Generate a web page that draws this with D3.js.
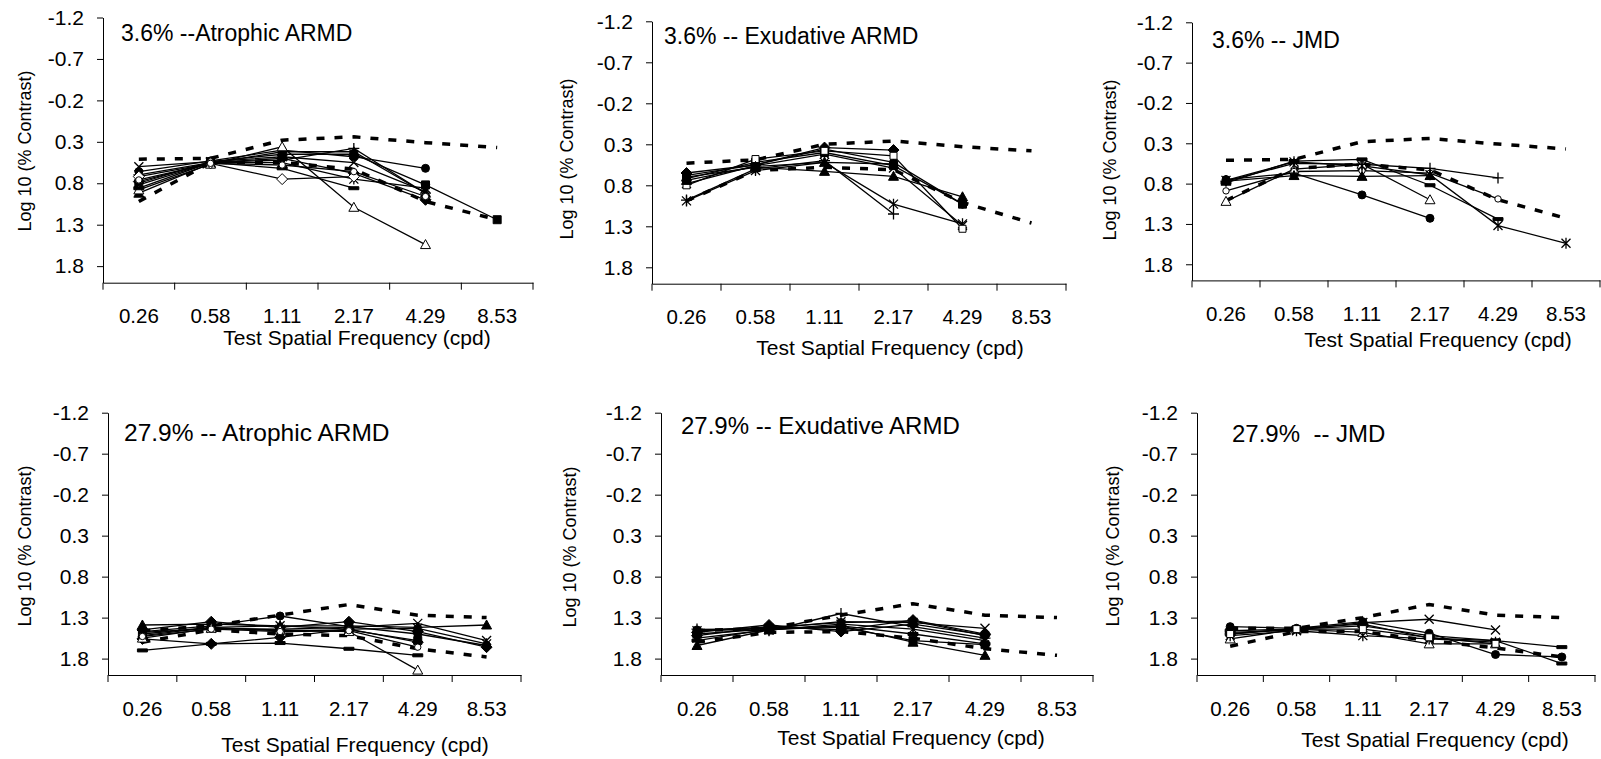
<!DOCTYPE html>
<html>
<head>
<meta charset="utf-8">
<script src="https://cdn.jsdelivr.net/npm/d3@7"></script>
<style>
  body { margin: 0; background: #fff; }
  text { font-family: "Liberation Sans", Arial, sans-serif; fill: #000; }
</style>
</head>
<body>
<svg id="chart" width="1601" height="759"></svg>
<script>
// categories and ticks
const freqs = ['0.26', '0.58', '1.11', '2.17', '4.29', '8.53'];
const yTicks = [-1.2, -0.7, -0.2, 0.3, 0.8, 1.3, 1.8];
const yDomain = [-1.2, 2.0];

// 3.6% -- Atrophic ARMD
const atrophic36Upper = [0.51, 0.50, 0.28, 0.24, 0.31, 0.37];
const atrophic36Lower = [1.02, 0.55, 0.55, 0.63, 1.02, 1.24];
const atrophic36 = [
  [0.78, 0.55, 0.50, 0.68, 1.00, null],
  [0.80, 0.54, 0.45, 0.45, 0.82, 1.24],
  [0.92, 0.56, 0.42, 0.42, 0.92, null],
  [0.60, 0.54, 0.48, 0.55, 0.90, null],
  [0.82, 0.55, 0.55, 0.75, 0.86, null],
  [0.66, 0.53, 0.40, 0.48, 0.62, null],
  [0.70, 0.55, 0.52, 0.38, 0.92, null],
  [0.88, 0.57, 0.36, 1.09, 1.54, null],
  [0.72, 0.56, 0.75, 0.72, null, null],
  [0.86, 0.55, 0.62, 0.86, null, null],
  [0.76, 0.56, 0.58, 0.66, 0.96, null]
];
const atrophic36Marks = ['diamond', 'square', 'triangle', 'x', 'asterisk', 'circle', 'plus', 'openTriangle', 'openDiamond', 'dash', 'openCircle'];

// 3.6% -- Exudative ARMD
const exudative36Upper = [0.53, 0.49, 0.30, 0.26, 0.33, 0.38];
const exudative36Lower = [0.99, 0.62, 0.58, 0.61, 1.01, 1.26];
const exudative36 = [
  [0.65, 0.55, 0.34, 0.37, null, null],
  [0.72, 0.52, 0.40, 0.56, 1.03, null],
  [0.70, 0.58, 0.63, 0.69, 0.94, null],
  [0.78, 0.56, 0.42, 0.59, 1.29, null],
  [0.99, 0.62, 0.52, 1.03, 1.27, null],
  [0.68, 0.55, 0.36, 0.52, 1.03, null],
  [0.98, 0.60, 0.50, 1.15, null, null],
  [0.80, 0.48, 0.38, 0.44, 1.33, null],
  [0.74, 0.57, 0.52, 0.54, null, null]
];
const exudative36Marks = ['diamond', 'square', 'triangle', 'x', 'asterisk', 'circle', 'plus', 'openSquare', 'triangle'];

// 3.6% -- JMD
const jmd36Upper = [0.51, 0.50, 0.28, 0.24, 0.31, 0.37];
const jmd36Lower = [1.01, 0.61, 0.56, 0.63, 1.00, 1.23];
const jmd36 = [
  [0.75, 0.67, 0.94, 1.23, null, null],
  [1.02, 0.62, 0.56, 1.00, null, null],
  [0.89, 0.65, 0.64, 0.67, 0.99, null],
  [0.77, 0.55, 0.56, 0.61, 0.73, null],
  [0.79, 0.52, 0.50, 0.82, 1.24, null],
  [0.76, 0.53, 0.58, 0.69, 1.32, 1.54],
  [0.77, 0.70, 0.71, 0.70, null, null]
];
const jmd36Marks = ['circle', 'openTriangle', 'openCircle', 'plus', 'dash', 'asterisk', 'triangle'];

// 27.9% -- Atrophic ARMD
const atrophic279Upper = [1.46, 1.40, 1.27, 1.14, 1.27, 1.30];
const atrophic279Lower = [1.60, 1.45, 1.50, 1.52, 1.68, 1.78];
const atrophic279 = [
  [1.45, 1.35, 1.42, 1.35, 1.47, 1.66],
  [1.52, 1.42, 1.46, 1.45, 1.58, null],
  [1.39, 1.38, 1.40, 1.40, 1.42, 1.39],
  [1.48, 1.43, 1.44, 1.42, 1.37, 1.58],
  [1.50, 1.42, 1.40, 1.44, 1.43, 1.62],
  [1.47, 1.40, 1.28, 1.41, 1.50, 1.64],
  [1.70, 1.62, 1.61, 1.68, 1.76, null],
  [1.56, 1.62, 1.54, 1.44, 1.60, null],
  [1.55, 1.43, 1.45, 1.47, 1.94, null],
  [1.53, 1.44, 1.47, 1.46, 1.66, null]
];
const atrophic279Marks = ['diamond', 'square', 'triangle', 'x', 'asterisk', 'circle', 'dash', 'diamond', 'openTriangle', 'openCircle'];

// 27.9% -- Exudative ARMD
const exudative279Upper = [1.46, 1.43, 1.27, 1.13, 1.27, 1.30];
const exudative279Lower = [1.60, 1.48, 1.47, 1.55, 1.68, 1.76];
const exudative279 = [
  [1.48, 1.39, 1.47, 1.38, 1.51, null],
  [1.50, 1.44, 1.42, 1.58, 1.63, null],
  [1.64, 1.45, 1.40, 1.60, 1.76, null],
  [1.46, 1.43, 1.35, 1.36, 1.43, null],
  [1.55, 1.45, 1.38, 1.44, 1.58, null],
  [1.45, 1.42, 1.36, 1.34, 1.52, null],
  [1.44, 1.46, 1.25, 1.41, 1.55, null],
  [1.58, 1.44, 1.40, 1.50, 1.62, null],
  [1.52, 1.41, 1.45, 1.33, 1.50, null]
];
const exudative279Marks = ['diamond', 'square', 'triangle', 'x', 'asterisk', 'circle', 'plus', 'dash', 'diamond'];

// 27.9% -- JMD
const jmd279Upper = [1.43, 1.43, 1.30, 1.14, 1.27, 1.30];
const jmd279Lower = [1.65, 1.47, 1.47, 1.58, 1.67, 1.78];
const jmd279 = [
  [1.41, 1.43, 1.35, 1.49, 1.75, 1.78],
  [1.48, 1.45, 1.36, 1.32, 1.45, null],
  [1.46, 1.44, 1.40, 1.52, 1.58, 1.66],
  [1.56, 1.44, 1.48, 1.62, 1.62, null],
  [1.52, 1.46, 1.52, 1.56, 1.60, null],
  [1.50, 1.43, 1.38, 1.55, 1.58, 1.86],
  [1.50, 1.44, 1.44, 1.54, 1.62, null]
];
const jmd279Marks = ['circle', 'x', 'dash', 'openTriangle', 'asterisk', 'dash', 'openSquare'];

// panel layout
const panels = [
  { title: '3.6% --Atrophic ARMD', xLabel: 'Test Spatial Frequency (cpd)', series: atrophic36, marks: atrophic36Marks,
    upper: atrophic36Upper, lower: atrophic36Lower, titleSize: 23,
    left: 103, right: 533, top: 17.5, bottom: 282.7, tx: 121, ty: 41, lx: 357, ly: 345, yx: 25, yy: 151 },
  { title: '3.6% -- Exudative ARMD', xLabel: 'Test Saptial Frequency (cpd)', series: exudative36, marks: exudative36Marks,
    upper: exudative36Upper, lower: exudative36Lower, titleSize: 23,
    left: 652, right: 1066, top: 21.3, bottom: 283.7, tx: 664, ty: 44, lx: 890, ly: 355, yx: 567, yy: 159 },
  { title: '3.6% -- JMD', xLabel: 'Test Spatial Frequency (cpd)', series: jmd36, marks: jmd36Marks,
    upper: jmd36Upper, lower: jmd36Lower, titleSize: 23,
    left: 1192, right: 1600, top: 22.3, bottom: 280.4, tx: 1212, ty: 48, lx: 1438, ly: 347, yx: 1110, yy: 160 },
  { title: '27.9% -- Atrophic ARMD', xLabel: 'Test Spatial Frequency (cpd)', series: atrophic279, marks: atrophic279Marks,
    upper: atrophic279Upper, lower: atrophic279Lower, titleSize: 24.5,
    left: 108, right: 521, top: 412.7, bottom: 675, tx: 124, ty: 441, lx: 355, ly: 752, yx: 25, yy: 546 },
  { title: '27.9% -- Exudative ARMD', xLabel: 'Test Spatial Frequency (cpd)', series: exudative279, marks: exudative279Marks,
    upper: exudative279Upper, lower: exudative279Lower, titleSize: 24,
    left: 661, right: 1093, top: 412.7, bottom: 675, tx: 681, ty: 434, lx: 911, ly: 745, yx: 570, yy: 547 },
  { title: '27.9%  -- JMD', xLabel: 'Test Spatial Frequency (cpd)', series: jmd279, marks: jmd279Marks,
    upper: jmd279Upper, lower: jmd279Lower, titleSize: 24,
    left: 1197, right: 1595, top: 412.7, bottom: 675, tx: 1232, ty: 442, lx: 1435, ly: 747, yx: 1113, yy: 546 }
];

const svg = d3.select('#chart');
svg.append('rect').attr('width', 1601).attr('height', 759).attr('fill', '#fff');

const circlePath = d3.symbol().type(d3.symbolCircle).size(50)();
const smallCircle = d3.symbol().type(d3.symbolCircle).size(32)();
const markerDefs = {
  diamond: { d: 'M0,-5.5L5.5,0L0,5.5L-5.5,0Z', fill: '#000' },
  square: { d: 'M-4,-4h8v8h-8Z', fill: '#000' },
  triangle: { d: 'M0,-5L5,4L-5,4Z', fill: '#000' },
  circle: { d: circlePath, fill: '#000' },
  dash: { d: 'M-5,-1.5h10v3h-10Z', fill: '#000' },
  x: { d: 'M-4.5,-4.5L4.5,4.5M-4.5,4.5L4.5,-4.5', stroke: true },
  asterisk: { d: 'M-4.5,-4.5L4.5,4.5M-4.5,4.5L4.5,-4.5M0,-5.5V5.5', stroke: true },
  plus: { d: 'M-5.5,0H5.5M0,-5.5V5.5', stroke: true },
  openDiamond: { d: 'M0,-5.5L5.5,0L0,5.5L-5.5,0Z', fill: '#fff' },
  openSquare: { d: 'M-3.5,-3.5h7v7h-7Z', fill: '#fff' },
  openTriangle: { d: 'M0,-5L5,4L-5,4Z', fill: '#fff' },
  openCircle: { d: smallCircle, fill: '#fff' }
};

panels.forEach(p => {
  const g = svg.append('g');
  const x = d3.scaleBand().domain(freqs).range([p.left, p.right]);
  const y = d3.scaleLinear().domain(yDomain).range([p.top, p.bottom]);
  const cx = f => x(f) + x.bandwidth() / 2;

  // y axis
  const yAxis = g.append('g')
    .attr('transform', `translate(${p.left},0)`)
    .call(d3.axisLeft(y).tickValues(yTicks).tickSize(6).tickSizeOuter(0).tickPadding(13)
      .tickFormat(d => d.toFixed(1)));
  yAxis.selectAll('text').attr('font-size', 21);
  yAxis.attr('font-family', null);

  // x axis: line + boundary ticks, labels centred in bands
  const xAxis = g.append('g')
    .attr('transform', `translate(0,${p.bottom})`)
    .call(d3.axisBottom(x).tickSize(0).tickSizeOuter(0).tickPadding(26));
  xAxis.selectAll('text').attr('font-size', 20.5);
  xAxis.attr('font-family', null);
  xAxis.selectAll('.bound')
    .data(d3.range(freqs.length + 1))
    .enter().append('line')
    .attr('class', 'bound')
    .attr('x1', i => p.left + i * x.step())
    .attr('x2', i => p.left + i * x.step())
    .attr('y1', 0).attr('y2', 7)
    .attr('stroke', '#000');
  g.selectAll('.domain').attr('stroke', '#000');

  // titles
  g.append('text')
    .attr('x', p.tx).attr('y', p.ty)
    .attr('font-size', p.titleSize)
    .style('white-space', 'pre')
    .text(p.title);
  g.append('text')
    .attr('x', p.lx).attr('y', p.ly)
    .attr('text-anchor', 'middle')
    .attr('font-size', 21)
    .text(p.xLabel);
  g.append('text')
    .attr('transform', `translate(${p.yx},${p.yy}) rotate(-90)`)
    .attr('text-anchor', 'middle')
    .attr('dy', '0.35em')
    .attr('font-size', 18)
    .text('Log 10 (% Contrast)');

  const line = d3.line()
    .defined(d => d.v != null)
    .x(d => cx(d.f))
    .y(d => y(d.v));
  const rows = vals => vals.map((v, i) => ({ f: freqs[i], v }));

  // normal limits (dashed)
  [p.upper, p.lower].forEach(vals => {
    g.append('path')
      .datum(rows(vals))
      .attr('d', line)
      .attr('fill', 'none')
      .attr('stroke', '#000')
      .attr('stroke-width', 3.5)
      .attr('stroke-dasharray', '8,10');
  });

  // subjects
  p.series.forEach(vals => {
    g.append('path')
      .datum(rows(vals))
      .attr('d', line)
      .attr('fill', 'none')
      .attr('stroke', '#000')
      .attr('stroke-width', 1.3);
  });

  p.series.forEach((vals, si) => {
    const m = markerDefs[p.marks[si]];
    g.selectAll(null)
      .data(rows(vals).filter(d => d.v != null))
      .enter().append('path')
      .attr('transform', d => `translate(${cx(d.f)},${y(d.v)})`)
      .attr('d', m.d)
      .attr('fill', m.stroke ? 'none' : m.fill)
      .attr('stroke', '#000')
      .attr('stroke-width', m.stroke ? 1.3 : 1);
  });
});
</script>
</body>
</html>
